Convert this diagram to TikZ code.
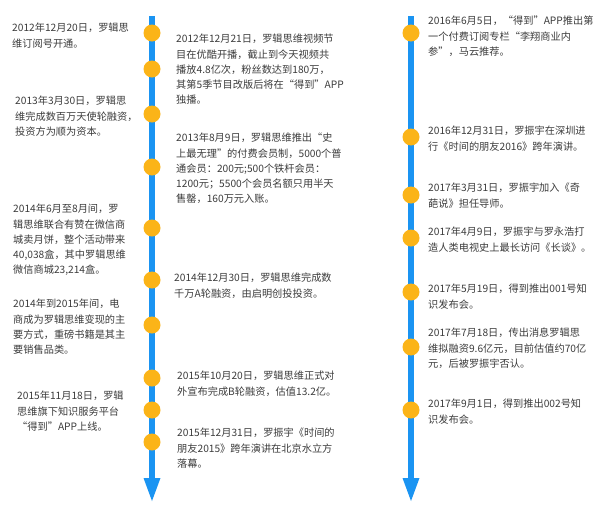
\documentclass[tikz,border=0pt]{standalone}
\usepackage{fontspec}
\setmainfont{Noto Sans CJK SC}
\definecolor{axisblue}{HTML}{1A94F2}
\definecolor{dotorange}{HTML}{FBB418}
\definecolor{txtgray}{HTML}{3C3C3C}
\begin{document}
\begin{tikzpicture}[x=1pt,y=-1pt,
  axisline/.style={draw=axisblue,line width=5.5pt},
  axishead/.style={fill=axisblue,draw=none},
  dot/.style={circle,fill=dotorange,draw=none,minimum size=17pt,inner sep=0pt},
  evtext/.style={anchor=north west,inner sep=0pt,align=left,text=txtgray,
    font=\fontsize{10.2}{15.2}\selectfont}]
\useasboundingbox (0,0) rectangle (611,507);
\fill[white] (0,0) rectangle (611,507);
% axes
\coordinate (lt) at (152,16);
\coordinate (lb) at (152,478);
\coordinate (rt) at (411,16);
\coordinate (rb) at (411,478);
\draw[axisline] (lt) -- (lb);
\draw[axisline] (rt) -- (rb);
\fill[axishead] ([xshift=-8.5pt]lb) -- ([xshift=8.5pt]lb) -- ([yshift=-23pt]lb) -- cycle;
\fill[axishead] ([xshift=-8.5pt]rb) -- ([xshift=8.5pt]rb) -- ([yshift=-23pt]rb) -- cycle;
% dots left axis
\foreach \y [count=\i] in {33,69,114,167,228,280,325,378,410,442}
  \node[dot] (l\i) at (152,\y) {};
% dots right axis
\foreach \y [count=\i] in {33,137,195,238,292,347,410}
  \node[dot] (r\i) at (411,\y) {};
% left column texts
\node[evtext] (t1) at (12,23) {2012年12月20日，罗辑思\\维订阅号开通。};
\node[evtext] (t2) at (15,96) {2013年3月30日，罗辑思\\维完成数百万天使轮融资，\\投资方为顺为资本。};
\node[evtext] (t3) at (13,204) {2014年6月至8月间，罗\\辑思维联合有赞在微信商\\城卖月饼，整个活动带来\\40,038盒，其中罗辑思维\\微信商城23,214盒。};
\node[evtext] (t4) at (13,299) {2014年到2015年间，电\\商成为罗辑思维变现的主\\要方式，重磅书籍是其主\\要销售品类。};
\node[evtext] (t5) at (17,391) {2015年11月18日，罗辑\\思维旗下知识服务平台\\“得到”APP上线。};
% middle column texts
\node[evtext] (m1) at (176,34) {2012年12月21日，罗辑思维视频节\\目在优酷开播，截止到今天视频共\\播放4.8亿次，粉丝数达到180万，\\其第5季节目改版后将在“得到”APP\\独播。};
\node[evtext] (m2) at (176,133) {2013年8月9日，罗辑思维推出“史\\上最无理”的付费会员制，5000个普\\通会员：200元;500个铁杆会员：\\1200元；5500个会员名额只用半天\\售罄，160万元入账。};
\node[evtext] (m3) at (174,273) {2014年12月30日，罗辑思维完成数\\千万A轮融资，由启明创投投资。};
\node[evtext] (m4) at (177,371) {2015年10月20日，罗辑思维正式对\\外宣布完成B轮融资，估值13.2亿。};
\node[evtext] (m5) at (177,428) {2015年12月31日，罗振宇《时间的\\朋友2015》跨年演讲在北京水立方\\落幕。};
% right column texts
\node[evtext] (r1t) at (428,16) {2016年6月5日，“得到”APP推出第\\一个付费订阅专栏“李翔商业内\\参”，马云推荐。};
\node[evtext] (r2t) at (428,126) {2016年12月31日，罗振宇在深圳进\\行《时间的朋友2016》跨年演讲。};
\node[evtext] (r3t) at (428,183) {2017年3月31日，罗振宇加入《奇\\葩说》担任导师。};
\node[evtext] (r4t) at (428,227) {2017年4月9日，罗振宇与罗永浩打\\造人类电视史上最长访问《长谈》。};
\node[evtext] (r5t) at (428,284) {2017年5月19日，得到推出001号知\\识发布会。};
\node[evtext] (r6t) at (428,328) {2017年7月18日，传出消息罗辑思\\维拟融资9.6亿元，目前估值约70亿\\元，后被罗振宇否认。};
\node[evtext] (r7t) at (428,399) {2017年9月1日，得到推出002号知\\识发布会。};
\end{tikzpicture}
\end{document}
